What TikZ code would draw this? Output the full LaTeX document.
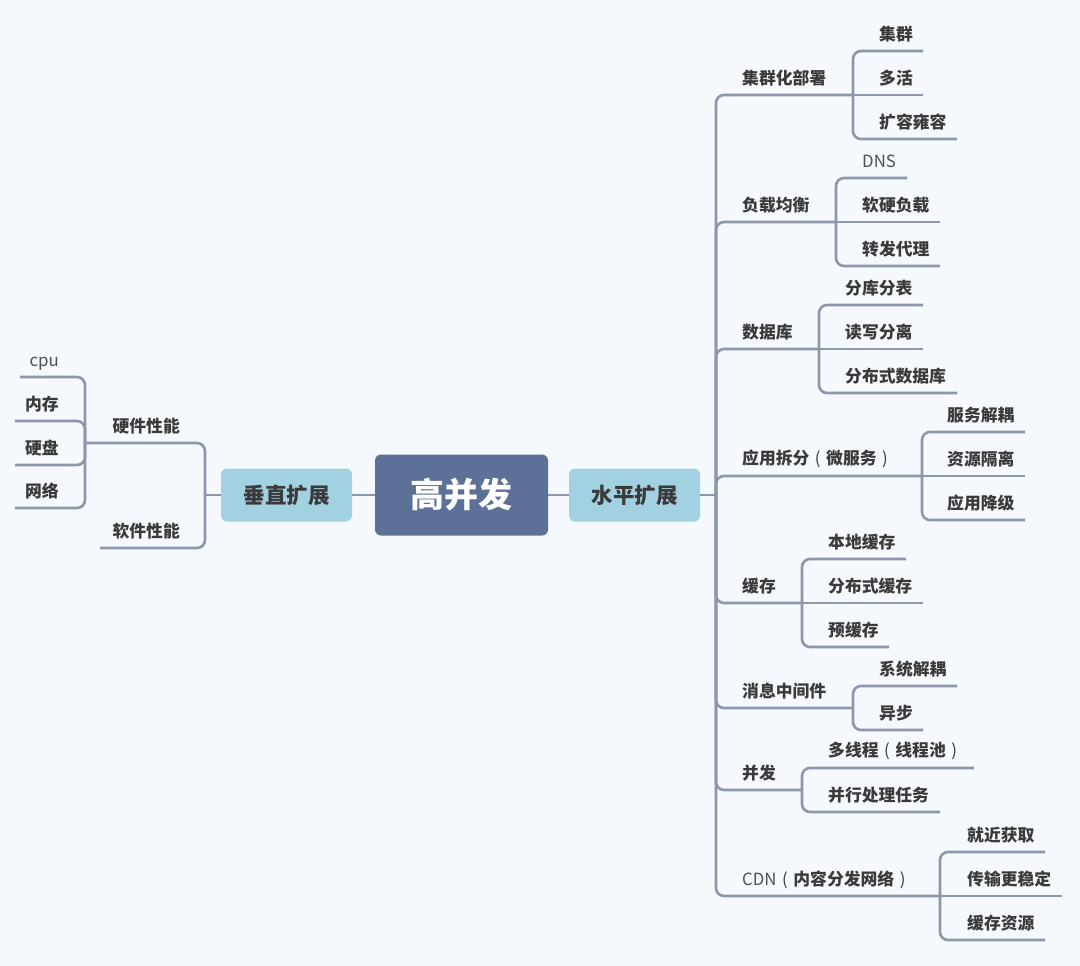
\documentclass[tikz,border=0pt]{standalone}
\usepackage{fontspec}
\setmainfont{Noto Sans CJK SC}
\definecolor{bgc}{HTML}{F5F8FC}
\definecolor{linec}{HTML}{8D97AB}
\definecolor{rootc}{HTML}{5D7098}
\definecolor{subc}{HTML}{A2D1E2}
\definecolor{txtc}{HTML}{3A3A3A}
\definecolor{latc}{HTML}{505050}
% centred full-width parentheses
\newcommand\lpar{\makebox[1em][c]{\mdseries (}}
\newcommand\rpar{\makebox[1em][c]{\mdseries )}}
% label: name, text x, line y, line end / junction x, text
\newcommand\rnode[5]{%
  \node[txt,anchor=west] (#1) at (#2,#3-17) {#5};
  \coordinate (#1-e) at (#4,#3);}
\newcommand\lnode[5]{%
  \node[txt,anchor=east] (#1) at (#2,#3-17) {#5};
  \coordinate (#1-e) at (#4,#3);}
\begin{document}
\begin{tikzpicture}[x=1pt,y=-1pt,
  conn/.style={draw=linec,line width=2.6pt,rounded corners=8pt},
  txt/.style={inner sep=0pt,text=txtc,font=\fontsize{16.8}{20}\selectfont\bfseries},
  lat/.style={inner sep=0pt,text=latc,font=\fontsize{16.8}{20}\selectfont},
  subbox/.style={fill=subc,rounded corners=6pt,minimum width=131pt,minimum height=53pt,inner sep=0pt,
    text=txtc,font=\fontsize{21.5}{24}\selectfont\bfseries}]
\fill[bgc] (0,0) rectangle (1080,966);
\useasboundingbox (0,0) rectangle (1080,966);

% central nodes
\node[fill=rootc,rounded corners=6pt,minimum width=173pt,minimum height=81pt,inner sep=0pt,
  text=white,font=\fontsize{34}{40}\selectfont\bfseries] (root) at (461.5,495) {高并发};
\node[subbox] (hz) at (634.5,495) {水平扩展};
\node[subbox] (vt) at (286.5,495) {垂直扩展};
\draw[conn] (vt.east) -- (root.west);
\draw[conn] (root.east) -- (hz.west);

% ---------------- left side
\coordinate (vtj) at (205,495);
\draw[conn] (vt.west) -- (vtj);
\lnode{hw}{180}{443}{85}{硬件性能}
\lnode{sw}{180}{548}{100}{软件性能}
\draw[conn] (vtj) |- (hw-e);
\draw[conn] (vtj) |- (sw-e);
\node[lat,anchor=base east] (cpu) at (59,366) {cpu};
\coordinate (cpu-e) at (20,377);
\lnode{mem}{59}{421}{15}{内存}
\lnode{disk}{59}{465}{15}{硬盘}
\lnode{net}{59}{508}{15}{网络}
\foreach \c in {cpu,mem,disk,net} \draw[conn] (hw-e) |- (\c-e);

% ---------------- right side
\coordinate (hzj) at (716,495);
\draw[conn] (hz.east) -- (hzj);
\rnode{p1}{742}{95}{853}{集群化部署}
\rnode{p2}{742}{222}{836}{负载均衡}
\rnode{p3}{742}{349}{819}{数据库}
\rnode{p4}{742}{476}{922}{应用拆分\lpar 微服务\rpar}
\rnode{p5}{742}{603}{802}{缓存}
\rnode{p6}{742}{708}{853}{消息中间件}
\rnode{p7}{742}{790}{802}{并发}
\node[txt,anchor=base west] (p8) at (742,885) {{\mdseries\color{latc}CDN}\lpar 内容分发网络\rpar};
\coordinate (p8-e) at (940,896);
\foreach \p in {p1,p2,p3,p4,p5,p6,p7,p8} \draw[conn] (hzj) |- (\p-e);

% p1 children
\rnode{a1}{879}{51}{923}{集群}
\rnode{a2}{879}{95}{923}{多活}
\rnode{a3}{879}{139}{957}{扩容雍容}
\draw[conn] (p1-e) |- (a1-e);
\draw[conn] (p1-e) -- (a2-e);
\draw[conn] (p1-e) |- (a3-e);
% p2 children
\node[lat,anchor=base west] (b1) at (862,167) {DNS};
\coordinate (b1-e) at (907,178);
\rnode{b2}{862}{222}{940}{软硬负载}
\rnode{b3}{862}{266}{940}{转发代理}
\draw[conn] (p2-e) |- (b1-e);
\draw[conn] (p2-e) -- (b2-e);
\draw[conn] (p2-e) |- (b3-e);
% p3 children
\rnode{c1}{845}{305}{923}{分库分表}
\rnode{c2}{845}{349}{923}{读写分离}
\rnode{c3}{845}{393}{957}{分布式数据库}
\draw[conn] (p3-e) |- (c1-e);
\draw[conn] (p3-e) -- (c2-e);
\draw[conn] (p3-e) |- (c3-e);
% p4 children
\rnode{d1}{947}{432}{1025}{服务解耦}
\rnode{d2}{947}{476}{1025}{资源隔离}
\rnode{d3}{947}{520}{1025}{应用降级}
\draw[conn] (p4-e) |- (d1-e);
\draw[conn] (p4-e) -- (d2-e);
\draw[conn] (p4-e) |- (d3-e);
% p5 children
\rnode{e1}{828}{559}{906}{本地缓存}
\rnode{e2}{828}{603}{923}{分布式缓存}
\rnode{e3}{828}{647}{889}{预缓存}
\draw[conn] (p5-e) |- (e1-e);
\draw[conn] (p5-e) -- (e2-e);
\draw[conn] (p5-e) |- (e3-e);
% p6 children
\rnode{f1}{879}{686}{957}{系统解耦}
\rnode{f2}{879}{730}{923}{异步}
\draw[conn] (p6-e) |- (f1-e);
\draw[conn] (p6-e) |- (f2-e);
% p7 children
\rnode{g1}{828}{768}{974}{多线程\lpar 线程池\rpar}
\rnode{g2}{828}{812}{940}{并行处理任务}
\draw[conn] (p7-e) |- (g1-e);
\draw[conn] (p7-e) |- (g2-e);
% p8 children
\rnode{h1}{967}{852}{1045}{就近获取}
\rnode{h2}{967}{896}{1062}{传输更稳定}
\rnode{h3}{967}{940}{1045}{缓存资源}
\draw[conn] (p8-e) |- (h1-e);
\draw[conn] (p8-e) -- (h2-e);
\draw[conn] (p8-e) |- (h3-e);
\end{tikzpicture}
\end{document}
